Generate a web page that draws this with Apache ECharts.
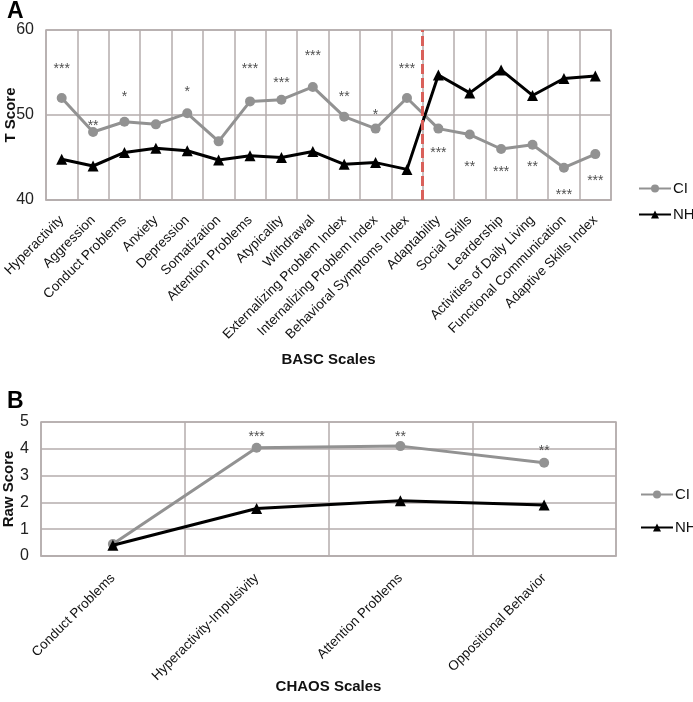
<!DOCTYPE html>
<html>
<head>
<meta charset="utf-8">
<script src="https://cdn.jsdelivr.net/npm/echarts@6/dist/echarts.min.js"></script>
<style>html,body{margin:0;padding:0;background:#fff}#c{width:693px;height:702px}</style>
</head>
<body>
<div id="c"></div>
<script>
var catsA = ['Hyperactivity','Aggression','Conduct Problems','Anxiety','Depression','Somatization','Attention Problems','Atypicality','Withdrawal','Externalizing Problem Index','Internalizing Problem Index','Behavioral Symptoms Index','Adaptability','Social Skills','Leardership','Activities of Daily Living','Functional Communication','Adaptive Skills Index'];
var ciA = [52.0, 48.0, 49.2, 48.9, 50.2, 46.9, 51.6, 51.8, 53.3, 49.8, 48.4, 52.0, 48.4, 47.7, 46.0, 46.5, 43.8, 45.4];
var nhA = [44.8, 44.0, 45.6, 46.1, 45.8, 44.7, 45.2, 45.0, 45.7, 44.2, 44.4, 43.6, 54.7, 52.6, 55.3, 52.3, 54.3, 54.6];
var starsA = ['***','**','*','','*','','***','***','***','**','*','***','***','**','***','**','***','***'];
var starPosA = [55.9, 49.2, 52.6, null, 53.2, null, 55.9, 54.2, 57.4, 52.6, 50.4, 55.9, 46.0, 44.3, 43.8, 44.3, 41.0, 42.7];
var dividerA = 12;
var ticksA = {min: 40, max: 60, interval: 10};

var catsB = ['Conduct Problems','Hyperactivity-Impulsivity','Attention Problems','Oppositional Behavior'];
var ciB = [0.45, 4.04, 4.10, 3.48];
var nhB = [0.40, 1.77, 2.06, 1.90];
var starsB = ['','***','**','**'];
var starPosB = [null, 4.57, 4.57, 4.08];
var ticksB = {min: 0, max: 5, interval: 1};

var GRID = '#b4adad';
var CI = '#929292';
var FONT = 'Liberation Sans, Arial, sans-serif';

function starData(pos, stars) {
  var d = [];
  for (var i = 0; i < pos.length; i++) {
    if (pos[i] !== null) d.push({value: [i, pos[i]], star: stars[i]});
  }
  return d;
}

var chart = echarts.init(document.getElementById('c'));
var catAxisCommon = {
  type: 'category',
  boundaryGap: true,
  axisLine: {show: true, lineStyle: {color: GRID, width: 1.5}},
  axisTick: {show: false},
  splitLine: {show: true, interval: 0, lineStyle: {color: GRID, width: 1.5}},
  nameLocation: 'middle',
  nameMoveOverlap: false,
  nameTextStyle: {fontFamily: FONT, fontWeight: 'bold', fontSize: 15, color: '#111'}
};
function valAxis(t, name, gap) {
  return {
    type: 'value', min: t.min, max: t.max, interval: t.interval,
    axisLine: {show: false}, axisTick: {show: false},
    splitLine: {show: true, lineStyle: {color: GRID, width: 1.5}},
    axisLabel: {fontFamily: FONT, fontSize: 16, color: '#222', margin: 12},
    name: name, nameLocation: 'middle', nameGap: gap, nameMoveOverlap: false,
    nameTextStyle: {fontFamily: FONT, fontWeight: 'bold', fontSize: 15, color: '#111'}
  };
}
var starLabel = {show: true, position: 'inside', offset: [0, 4], fontFamily: FONT, fontSize: 14, color: '#222',
  formatter: function (p) { return p.data.star; }};

var option = {
  animation: false,
  backgroundColor: '#fff',
  textStyle: {fontFamily: FONT},
  title: [
    {text: 'A', left: 2, top: -5, textStyle: {fontFamily: FONT, fontSize: 23, fontWeight: 'bold', color: '#000'}},
    {text: 'B', left: 2, top: 385, textStyle: {fontFamily: FONT, fontSize: 23, fontWeight: 'bold', color: '#000'}}
  ],
  grid: [
    {left: 46, top: 30, width: 565, height: 170, show: true, borderColor: GRID, borderWidth: 1.5, containLabel: false, outerBoundsMode: 'none'},
    {left: 41, top: 422, width: 575, height: 134, show: true, borderColor: GRID, borderWidth: 1.5, containLabel: false, outerBoundsMode: 'none'}
  ],
  legend: [
    {data: ['CI', 'NH'], orient: 'vertical', left: 638, top: 181, padding: 0, itemWidth: 32, itemHeight: 10, itemGap: 11,
     textStyle: {fontFamily: FONT, fontSize: 15, color: '#111', padding: [0, 0, 0, -3]}},
    {data: ['CI', 'NH'], orient: 'vertical', left: 640, top: 487, padding: 0, itemWidth: 32, itemHeight: 10, itemGap: 18,
     textStyle: {fontFamily: FONT, fontSize: 15, color: '#111', padding: [0, 0, 0, -3]}}
  ],
  xAxis: [
    Object.assign({}, catAxisCommon, {gridIndex: 0, data: catsA, name: 'BASC Scales', nameGap: 152,
      axisLabel: {rotate: 45, interval: 0, fontFamily: FONT, fontSize: 13.5, color: '#111', margin: 18}}),
    Object.assign({}, catAxisCommon, {gridIndex: 1, data: catsB, name: 'CHAOS Scales', nameGap: 123,
      axisLabel: {rotate: 45, interval: 0, fontFamily: FONT, fontSize: 13.5, color: '#111', margin: 20}}),
    {type: 'value', gridIndex: 0, min: 0, max: catsA.length, show: false}
  ],
  yAxis: [
    Object.assign(valAxis(ticksA, 'T Score', 28), {gridIndex: 0}),
    Object.assign(valAxis(ticksB, 'Raw Score', 25), {gridIndex: 1})
  ],
  series: [
    {name: 'CI', type: 'line', xAxisIndex: 0, yAxisIndex: 0, data: ciA, symbol: 'circle', symbolSize: 10,
     lineStyle: {color: CI, width: 3}, itemStyle: {color: CI}, z: 3},
    {name: 'NH', type: 'line', xAxisIndex: 0, yAxisIndex: 0, data: nhA, symbol: 'triangle', symbolSize: 11,
     lineStyle: {color: '#000', width: 3}, itemStyle: {color: '#000'}, z: 4},
    {name: 'starsA', type: 'scatter', xAxisIndex: 0, yAxisIndex: 0, data: starData(starPosA, starsA), symbolSize: 0,
     label: starLabel},
    {name: 'divider', type: 'line', xAxisIndex: 2, yAxisIndex: 0, data: [], symbol: 'none',
     markLine: {silent: true, symbol: 'none', label: {show: false},
       lineStyle: {color: '#d9605a', width: 3, type: [10, 4]},
       data: [{xAxis: dividerA}]}},
    {name: 'CI', type: 'line', xAxisIndex: 1, yAxisIndex: 1, data: ciB, symbol: 'circle', symbolSize: 10,
     lineStyle: {color: CI, width: 3}, itemStyle: {color: CI}, z: 3},
    {name: 'NH', type: 'line', xAxisIndex: 1, yAxisIndex: 1, data: nhB, symbol: 'triangle', symbolSize: 11,
     lineStyle: {color: '#000', width: 3}, itemStyle: {color: '#000'}, z: 4},
    {name: 'starsB', type: 'scatter', xAxisIndex: 1, yAxisIndex: 1, data: starData(starPosB, starsB), symbolSize: 0,
     label: starLabel}
  ]
};
chart.setOption(option);
</script>
</body>
</html>
